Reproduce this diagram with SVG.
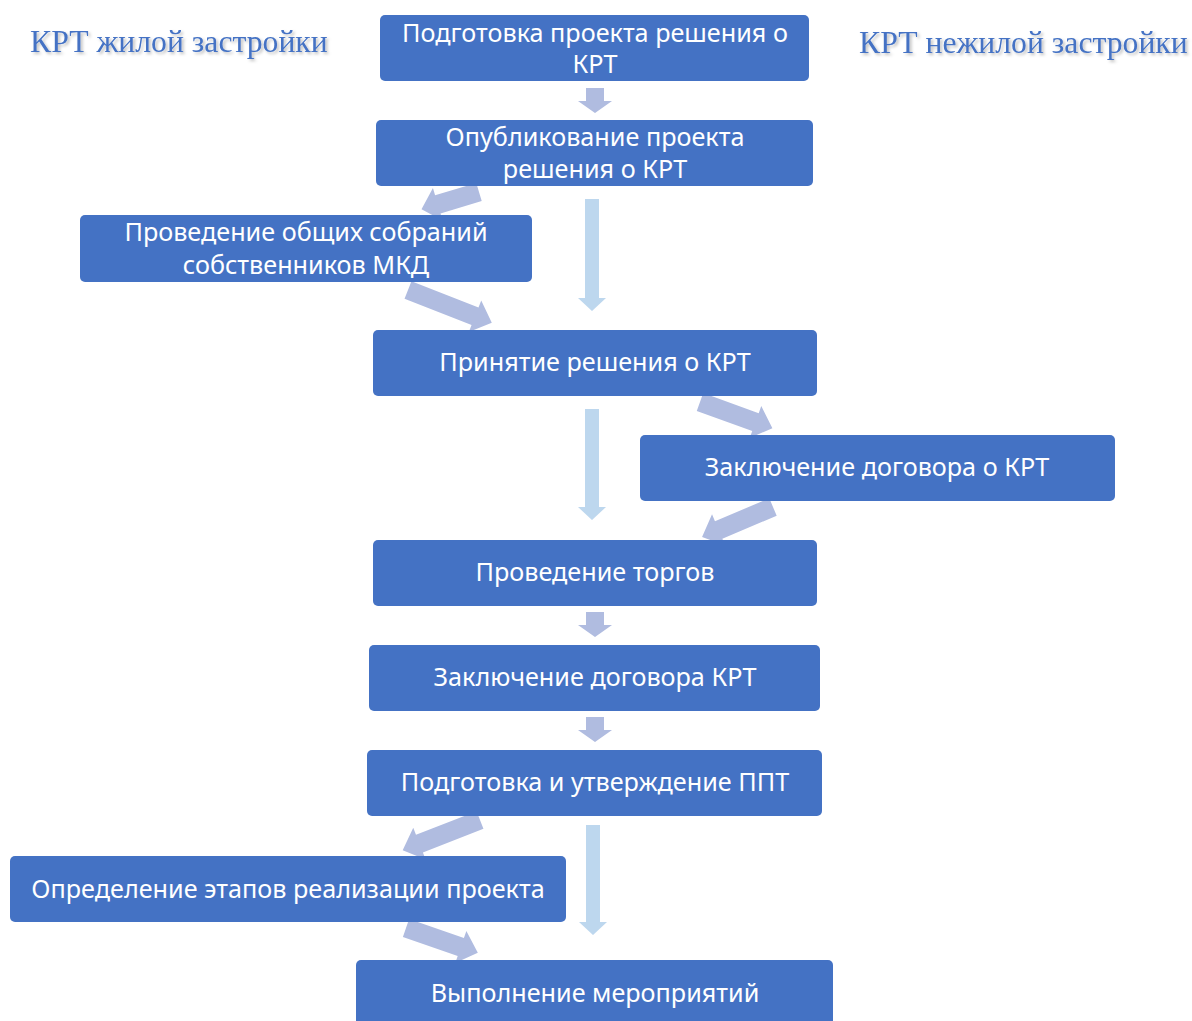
<svg xmlns="http://www.w3.org/2000/svg" width="1192" height="1021" viewBox="0 0 1192 1021">
<defs>
<style>
.box{fill:#4472C4;}
.t{font-family:"Noto Sans","Open Sans",sans-serif;font-size:25.2px;fill:#FFFFFF;text-anchor:middle;}
.title{font-family:"Liberation Serif","Times New Roman",serif;font-size:31.7px;fill:#4472C4;filter:url(#sh);}
.lav{fill:#B0BCE0;}
.lb{fill:#BDD7EE;}
</style>
<filter id="sh" x="-5%" y="-20%" width="110%" height="150%">
<feDropShadow dx="2" dy="2" stdDeviation="1.5" flood-color="#000000" flood-opacity="0.25"/>
</filter>
</defs>
<rect width="1192" height="1021" fill="#FFFFFF"/>
<text class="title" x="30" y="52">КРТ жилой застройки</text>
<text class="title" x="859" y="53">КРТ нежилой застройки</text>

<g id="connectors">
<path class="lav" d="M586,88 H604 V101 H612 L595,113 L578,101 H586 Z"/>
<path class="lav" d="M586,612 H604 V625 H612 L595,637 L578,625 H586 Z"/>
<path class="lav" d="M586,717 H604 V730 H612 L595,742 L578,730 H586 Z"/>
<path class="lb" d="M585,199 H599 V298 H606 L592,311 L578,298 H585 Z"/>
<path class="lb" d="M585,409 H599 V507 H606 L592,520 L578,507 H585 Z"/>
<path class="lb" d="M586,825 H600 V922 H607 L593,935 L579,922 H586 Z"/>
<path class="lav" transform="translate(479,192) rotate(163.4)" d="M0,-9.5 L43,-9.5 L43,-17 L60,0 L43,17 L43,9.5 L0,9.5 Z"/>
<path class="lav" transform="translate(408,290) rotate(21.4)" d="M0,-9.5 L72,-9.5 L72,-17 L90,0 L72,17 L72,9.5 L0,9.5 Z"/>
<path class="lav" transform="translate(700,402) rotate(19.9)" d="M0,-9.5 L59,-9.5 L59,-17 L77,0 L59,17 L59,9.5 L0,9.5 Z"/>
<path class="lav" transform="translate(773,507) rotate(157.1)" d="M0,-9.5 L59,-9.5 L59,-17 L77,0 L59,17 L59,9.5 L0,9.5 Z"/>
<path class="lav" transform="translate(480,820) rotate(158.7)" d="M0,-9.5 L65,-9.5 L65,-17 L83,0 L65,17 L65,9.5 L0,9.5 Z"/>
<path class="lav" transform="translate(406,928) rotate(19.1)" d="M0,-9.5 L58,-9.5 L58,-17 L76,0 L58,17 L58,9.5 L0,9.5 Z"/>
</g>

<g id="n1"><rect class="box" x="380" y="15" width="429" height="66" rx="5"/><text class="t" x="595" y="42">Подготовка проекта решения о</text><text class="t" x="595" y="73">КРТ</text></g>
<g id="n2"><rect class="box" x="376" y="120" width="437" height="66" rx="5"/><text class="t" x="595" y="146">Опубликование проекта</text><text class="t" x="595" y="178">решения о КРТ</text></g>
<g id="n3"><rect class="box" x="80" y="215" width="452" height="67" rx="5"/><text class="t" x="306" y="241">Проведение общих собраний</text><text class="t" x="306" y="274">собственников МКД</text></g>
<g id="n4"><rect class="box" x="373" y="330" width="444" height="66" rx="5"/><text class="t" x="595" y="371">Принятие решения о КРТ</text></g>
<g id="n5"><rect class="box" x="640" y="435" width="475" height="66" rx="5"/><text class="t" x="877" y="476">Заключение договора о КРТ</text></g>
<g id="n6"><rect class="box" x="373" y="540" width="444" height="66" rx="5"/><text class="t" x="595" y="581">Проведение торгов</text></g>
<g id="n7"><rect class="box" x="369" y="645" width="451" height="66" rx="5"/><text class="t" x="595" y="686">Заключение договора КРТ</text></g>
<g id="n8"><rect class="box" x="367" y="750" width="455" height="66" rx="5"/><text class="t" x="595" y="791">Подготовка и утверждение ППТ</text></g>
<g id="n9"><rect class="box" x="10" y="856" width="556" height="66" rx="5"/><text class="t" x="288" y="898">Определение этапов реализации проекта</text></g>
<g id="n10"><rect class="box" x="356" y="960" width="477" height="80" rx="5"/><text class="t" x="595" y="1002">Выполнение мероприятий</text></g>
</svg>
